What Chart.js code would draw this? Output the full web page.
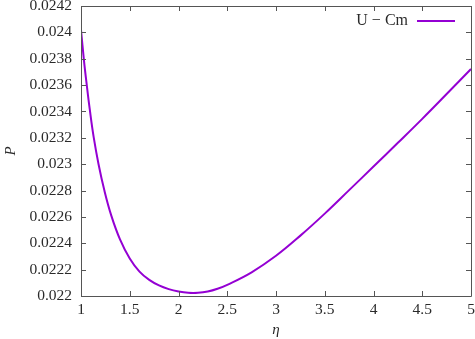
<!DOCTYPE html>
<html>
<head>
<meta charset="utf-8">
<script src="https://cdn.jsdelivr.net/npm/chart.js@4/dist/chart.umd.min.js"></script>
<style>
  html, body { margin: 0; padding: 0; background: #fff; }
  #wrap { width: 475px; height: 339px; }
</style>
</head>
<body>
<div id="wrap"><canvas id="c" width="475" height="339"></canvas></div>
<script>
// ---- data ----
const seriesLabel = "U \u2212 Cm";
const etaValues = [1.0, 1.03, 1.06, 1.09, 1.13, 1.18, 1.24, 1.31, 1.4, 1.5, 1.6, 1.7, 1.8, 1.9, 2.0, 2.1, 2.2, 2.3, 2.4, 2.5, 2.75, 3.0, 3.25, 3.5, 3.75, 4.0, 4.25, 4.5, 4.75, 5.0];
const pValues   = [0.02402, 0.02379, 0.023595, 0.023415, 0.023205, 0.023, 0.0228, 0.022612, 0.02243, 0.022285, 0.022185, 0.022122, 0.02208, 0.022052, 0.022034, 0.022024, 0.022024, 0.022034, 0.022055, 0.022085, 0.02218, 0.022305, 0.022458, 0.022625, 0.022803, 0.022982, 0.023162, 0.023344, 0.023532, 0.023722];
const xTicks = [1, 1.5, 2, 2.5, 3, 3.5, 4, 4.5, 5];
const yTicks = [0.022, 0.0222, 0.0224, 0.0226, 0.0228, 0.023, 0.0232, 0.0234, 0.0236, 0.0238, 0.024, 0.0242];
const xTitle = "\u03B7";
const yTitle = "P";

const lineColor = "#9400D3";
const axisColor = "#555555";
const textColor = "#2a2a2a";
const fontFamily = "'Liberation Serif', 'DejaVu Serif', serif";

const points = etaValues.map((x, i) => ({ x: x, y: pValues[i] }));

const frameAndLegend = {
  id: 'frameAndLegend',
  afterDraw(chart) {
    const ctx = chart.ctx;
    const a = chart.chartArea;
    const xs = chart.scales.x, ys = chart.scales.y;
    const tl = 5;
    ctx.save();
    ctx.strokeStyle = axisColor;
    ctx.lineWidth = 1;
    ctx.beginPath();
    ctx.rect(Math.round(a.left) + 0.5, Math.round(a.top) + 0.5, Math.round(a.right - a.left), Math.round(a.bottom - a.top));
    ctx.stroke();
    ctx.beginPath();
    xTicks.forEach(v => {
      const px = Math.round(xs.getPixelForValue(v)) + 0.5;
      ctx.moveTo(px, a.bottom); ctx.lineTo(px, a.bottom - tl);
      ctx.moveTo(px, a.top); ctx.lineTo(px, a.top + tl);
    });
    yTicks.forEach(v => {
      const py = Math.round(ys.getPixelForValue(v)) + 0.5;
      ctx.moveTo(a.left, py); ctx.lineTo(a.left + tl, py);
      ctx.moveTo(a.right, py); ctx.lineTo(a.right - tl, py);
    });
    ctx.stroke();
    // legend (top right, text then line sample)
    const ds = chart.data.datasets[0];
    const ly = a.top + 15;
    const lineEnd = a.right - 16;
    const lineStart = lineEnd - 38;
    ctx.font = "16px " + fontFamily;
    ctx.fillStyle = textColor;
    ctx.textAlign = 'right';
    ctx.textBaseline = 'middle';
    ctx.fillText(ds.label, lineStart - 9, ly);
    ctx.strokeStyle = ds.borderColor;
    ctx.lineWidth = 2;
    ctx.beginPath();
    ctx.moveTo(lineStart, ly); ctx.lineTo(lineEnd, ly);
    ctx.stroke();
    ctx.restore();
  }
};

new Chart(document.getElementById('c'), {
  type: 'line',
  data: {
    datasets: [{
      label: seriesLabel,
      data: points,
      borderColor: lineColor,
      backgroundColor: lineColor,
      borderWidth: 2,
      pointRadius: 0,
      tension: 0.4,
      fill: false
    }]
  },
  options: {
    responsive: false,
    animation: false,
    devicePixelRatio: 1,
    layout: { padding: { top: 6, right: 4, left: 0, bottom: 0 } },
    plugins: { legend: { display: false }, tooltip: { enabled: false } },
    scales: {
      x: {
        type: 'linear', min: 1, max: 5,
        grid: { display: false, drawTicks: false },
        border: { display: false },
        afterBuildTicks: s => { s.ticks = xTicks.map(v => ({ value: v })); },
        afterFit: s => { s.height = 43; s.paddingLeft = 0; s.paddingRight = 0; },
        ticks: {
          padding: 5, color: textColor, maxRotation: 0,
          font: { family: fontFamily, size: 15.5 },
          callback: v => String(v)
        },
        title: {
          display: true, text: xTitle, color: textColor,
          font: { family: fontFamily, size: 15, style: 'italic' },
          padding: { top: 0, bottom: 0 }
        }
      },
      y: {
        type: 'linear', min: 0.022, max: 0.0242,
        grid: { display: false, drawTicks: false },
        border: { display: false },
        afterBuildTicks: s => { s.ticks = yTicks.map(v => ({ value: v })); },
        afterFit: s => { s.width = 81; s.paddingTop = 0; s.paddingBottom = 0; },
        ticks: {
          padding: 9, color: textColor,
          font: { family: fontFamily, size: 15.5 },
          callback: v => String(parseFloat(Number(v).toFixed(4)))
        },
        title: {
          display: true, text: yTitle, color: textColor,
          font: { family: fontFamily, size: 15, style: 'italic' },
          padding: { top: 2, bottom: 0 }
        }
      }
    }
  },
  plugins: [frameAndLegend]
});
</script>
</body>
</html>
